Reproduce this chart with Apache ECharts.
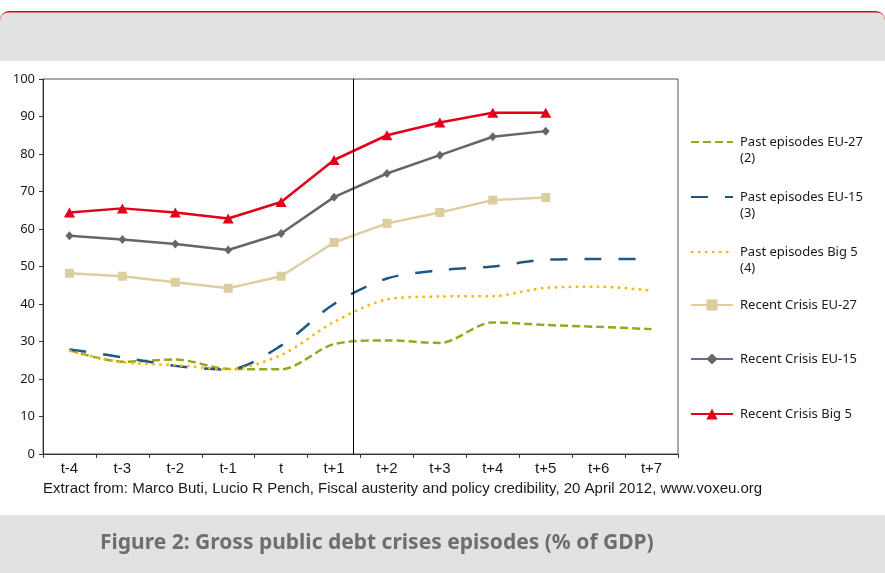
<!DOCTYPE html>
<html>
<head>
<meta charset="utf-8">
<script src="https://cdn.jsdelivr.net/npm/echarts@6/dist/echarts.min.js"></script>
<style>
html,body{margin:0;padding:0;background:#fff;}
#chart{width:885px;height:573px;}
</style>
</head>
<body>
<div id="chart"></div>
<script>
const categories = ['t-4','t-3','t-2','t-1','t','t+1','t+2','t+3','t+4','t+5','t+6','t+7'];
const yTicks = [0,10,20,30,40,50,60,70,80,90,100];
const seriesNames = ['Past episodes EU-27 (2)','Past episodes EU-15 (3)','Past episodes Big 5 (4)','Recent Crisis EU-27','Recent Crisis EU-15','Recent Crisis Big 5'];
const pastEU27 = [27.7,24.6,25.2,22.7,22.6,29.3,30.3,29.6,35.1,34.4,33.9,33.3];
const pastEU15 = [27.9,25.8,23.5,22.5,28.9,40.0,46.8,49.0,50.0,51.8,52.0,52.0];
const pastBig5 = [27.5,24.5,23.7,22.6,26.4,35.2,41.2,42.0,42.1,44.3,44.6,43.6];
const recentEU27 = [48.2,47.4,45.8,44.2,47.4,56.4,61.5,64.4,67.7,68.4];
const recentEU15 = [58.2,57.2,56.0,54.4,58.8,68.5,74.8,79.7,84.6,86.1];
const recentBig5 = [64.4,65.5,64.4,62.8,67.2,78.4,85.0,88.4,91.0,91.0];
const dividerPosition = 5.36; // between t+1 and t+2 (category index units)
const sourceText = 'Extract from: Marco Buti, Lucio R Pench, Fiscal austerity and policy credibility, 20 April 2012, www.voxeu.org';
const titleText = 'Figure 2: Gross public debt crises episodes (% of GDP)';

const chart = echarts.init(document.getElementById('chart'), null, {renderer:'canvas'});
const legendFont = {fontFamily:'Noto Sans', fontSize:13, color:'#1a1a1a', lineHeight:16};
function fmt(n){ return n.indexOf(' (') >= 0 ? '\n' + n.replace(' (', '\n(') : n; }
function mkLegend(i, top, extra){
  const d = Object.assign({name: seriesNames[i]}, extra||{});
  return {
    data:[d], left:690, top:top, orient:'vertical', padding:0,
    itemWidth:42, itemHeight:14, formatter: fmt,
    textStyle:Object.assign({}, legendFont, {padding:[0,0,0,2]}),
    selectedMode:false
  };
}
const noSym = {itemStyle:{opacity:0}};
const option = {
  animation:false,
  backgroundColor:'#fff',
  graphic:[
    {type:'rect', shape:{x:0,y:11,width:885,height:40,r:[9,9,0,0]}, style:{fill:'#e2001a'}, z:-10},
    {type:'rect', shape:{x:0,y:12.5,width:885,height:48.5,r:[8,8,0,0]}, style:{fill:'#e1e3e2'}, z:-9},
    {type:'rect', shape:{x:0,y:515,width:885,height:58}, style:{fill:'#e1e3e2'}, z:-9},
    {type:'text', left:43, top:481, style:{text:sourceText, font:'15px "Liberation Sans Narrow", "Arial Narrow", sans-serif', fill:'#1a1a1a'}},
    {type:'text', left:100, top:533, style:{text:titleText, font:'bold 21px "Noto Sans", sans-serif', fill:'#6d6e70'}}
  ],
  grid:{left:43, right:207, top:79, bottom:119, show:true, borderColor:'#555', borderWidth:1, backgroundColor:'#fff'},
  legend:[
    mkLegend(0,118,noSym),
    mkLegend(1,173,noSym),
    mkLegend(2,228,noSym),
    mkLegend(3,297),
    mkLegend(4,351,{itemStyle:{color:'#666666'}, lineStyle:{color:'#7b6196'}}),
    mkLegend(5,406)
  ],
  xAxis:[
    {type:'category', data:categories, boundaryGap:true,
     axisLine:{lineStyle:{color:'#333', width:1}},
     axisTick:{show:true, inside:false, length:4, lineStyle:{color:'#333'}},
     axisLabel:{fontFamily:'"Liberation Sans Narrow", "Arial Narrow", sans-serif', fontSize:15, color:'#1a1a1a', margin:7},
     splitLine:{show:false}},
    {type:'value', min:-0.5, max:11.5, show:false}
  ],
  yAxis:{type:'value', min:0, max:100, interval:10,
    axisLine:{show:true, onZero:false, lineStyle:{color:'#333'}},
    axisTick:{show:true, length:4, lineStyle:{color:'#333'}},
    axisLabel:{fontFamily:'Noto Sans', fontSize:13, color:'#1a1a1a', margin:8},
    splitLine:{show:false}},
  series:[
    {name:seriesNames[0], type:'line', data:pastEU27, smooth:0.3, symbol:'none',
     lineStyle:{color:'#97a81e', width:2.5, type:[8,4]}, itemStyle:{color:'#97a81e'}, z:2},
    {name:seriesNames[1], type:'line', data:pastEU15, smooth:0.3, symbol:'none',
     lineStyle:{color:'#1f5886', width:2.5, type:[17,17]}, itemStyle:{color:'#1f5886'}, z:2},
    {name:seriesNames[2], type:'line', data:pastBig5, smooth:0.3, symbol:'none',
     lineStyle:{color:'#f6b700', width:2.5, type:[2.5,4.5]}, itemStyle:{color:'#f6b700'}, z:2},
    {name:seriesNames[3], type:'line', data:recentEU27, symbol:'rect', symbolSize:9,
     lineStyle:{color:'#dccf9f', width:2.5}, itemStyle:{color:'#dccf9f'}, z:3},
    {name:seriesNames[4], type:'line', data:recentEU15, symbol:'diamond', symbolSize:[8,9],
     lineStyle:{color:'#666666', width:2.5}, itemStyle:{color:'#666666'}, z:3},
    {name:seriesNames[5], type:'line', data:recentBig5, symbol:'triangle', symbolSize:[11,10],
     lineStyle:{color:'#e2001a', width:2.5}, itemStyle:{color:'#e2001a'}, z:4},
    {name:'divider', type:'line', xAxisIndex:1, data:[], silent:true,
     markLine:{silent:true, symbol:'none', label:{show:false},
       lineStyle:{color:'#000', width:1, type:'solid'},
       data:[{xAxis:dividerPosition}]}}
  ]
};
chart.setOption(option);
</script>
</body>
</html>
